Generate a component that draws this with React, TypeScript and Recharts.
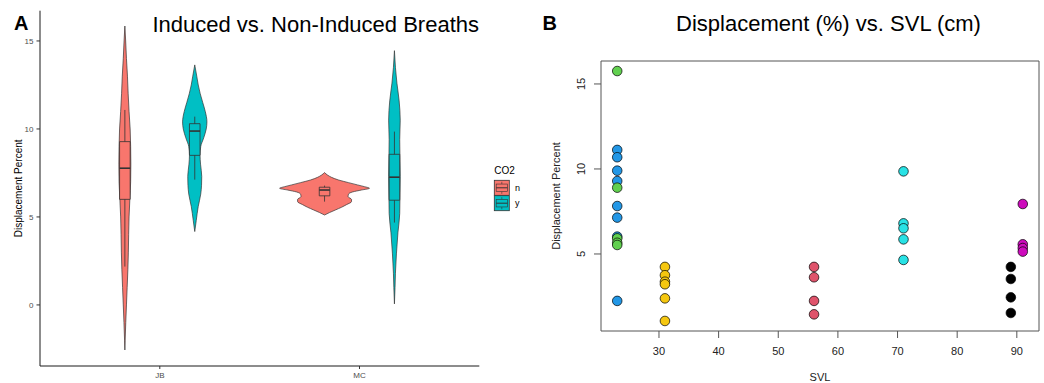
import React from 'react';
import {
  ComposedChart, Area, XAxis, YAxis, ReferenceArea, ReferenceLine,
  ScatterChart, Scatter,
} from 'recharts';

const FONT = '"Liberation Sans", Arial, Helvetica, sans-serif';

// ---------- panel A: violins + boxplots ----------
const groups = ['JB', 'MC'];
const co2Levels = ['n', 'y'];
const co2Fill = ['#F8766D', '#00BFC4'];

// violin outlines: displacement level and half width (in category units)
const jbNoY = [-2.56, -2, -1, 0, 1, 2, 3, 4, 5, 6, 7, 8, 9, 10, 11, 12, 13, 14, 15, 15.85];
const jbNoWidth = [0, 0.0015, 0.0045, 0.008, 0.0115, 0.015, 0.0175, 0.019, 0.021, 0.025, 0.029, 0.03, 0.029, 0.0265, 0.021, 0.0165, 0.013, 0.008, 0.004, 0];

const jbYesY = [4.17, 4.8, 5.6, 6.3, 6.8, 7.3, 8.0, 8.5, 9.0, 9.5, 10.0, 10.4, 11.0, 11.5, 12.0, 12.5, 13.0, 13.64];
const jbYesWidth = [0, 0.0075, 0.0175, 0.03, 0.034, 0.035, 0.029, 0.0265, 0.03, 0.045, 0.0575, 0.061, 0.0525, 0.04, 0.0275, 0.0175, 0.01, 0];

const mcNoY = [5.11, 5.25, 5.4, 5.55, 5.7, 5.87, 6.0, 6.15, 6.3, 6.42, 6.53, 6.63, 6.72, 6.82, 6.95, 7.1, 7.25, 7.38, 7.52];
const mcNoWidth = [0, 0.025, 0.055, 0.085, 0.11, 0.135, 0.135, 0.118, 0.12, 0.14, 0.185, 0.225, 0.2, 0.165, 0.12, 0.07, 0.035, 0.015, 0];

const mcYesY = [0.06, 1.0, 1.8, 2.9, 4.1, 5.2, 6.0, 7.3, 8.5, 9.4, 10.5, 11.6, 12.6, 13.5, 14.45];
const mcYesWidth = [0, 0.003, 0.005, 0.01, 0.0175, 0.0265, 0.0275, 0.029, 0.0275, 0.0265, 0.029, 0.0235, 0.0125, 0.005, 0];

// boxplot stats, order: JB n, JB y, MC n, MC y
const boxLow = [2.18, 7.12, 5.87, 4.68];
const boxQ1 = [6.0, 8.5, 6.2, 5.95];
const boxMedian = [7.77, 9.88, 6.53, 7.26];
const boxQ3 = [9.28, 10.3, 6.69, 8.56];
const boxHigh = [11.08, 10.7, 6.78, 9.85];

// ---------- panel B: scatter ----------
const svlBlue = 23;
const dispBlue = [11.12, 10.69, 9.9, 9.29, 7.82, 7.14, 6.02, 2.24];
const svlGreen = 23;
const dispGreen = [15.76, 8.9, 5.92, 5.66, 5.53];
const svlYellow = 31;
const dispYellow = [4.24, 3.75, 3.37, 3.22, 2.39, 1.06];
const svlRed = 56;
const dispRed = [4.24, 3.63, 2.24, 1.45];
const svlCyan = 71;
const dispCyan = [9.86, 6.8, 6.51, 5.86, 4.65];
const svlBlack = 89;
const dispBlack = [4.24, 3.53, 2.45, 1.53];
const svlMagenta = 91;
const dispMagenta = [7.94, 5.57, 5.35, 5.14];
const svlTicks = [30, 40, 50, 60, 70, 80, 90];
const dispTicks = [5, 10, 15];

const DODGE = 0.175;
const BOX_HALF = 0.0265;

const violins = [
  { key: 'jbN', g: 0, c: 0, ys: jbNoY, ws: jbNoWidth },
  { key: 'jbY', g: 0, c: 1, ys: jbYesY, ws: jbYesWidth },
  { key: 'mcN', g: 1, c: 0, ys: mcNoY, ws: mcNoWidth },
  { key: 'mcY', g: 1, c: 1, ys: mcYesY, ws: mcYesWidth },
].map(s => ({ ...s, center: s.g + 1 + (s.c === 0 ? -DODGE : DODGE) }));

const levels = Array.from(new Set(violins.flatMap(s => s.ys))).sort((a, b) => a - b);
const violinRows = levels.map(v => {
  const row: any = { v };
  violins.forEach(s => {
    const i = s.ys.indexOf(v);
    row[s.key] = i >= 0 ? [s.center - s.ws[i], s.center + s.ws[i]] : [null, null];
  });
  return row;
});

const scatterSets = [
  { svl: svlBlue, disp: dispBlue, color: '#2297E6' },
  { svl: svlGreen, disp: dispGreen, color: '#61D04F' },
  { svl: svlYellow, disp: dispYellow, color: '#F5C710' },
  { svl: svlRed, disp: dispRed, color: '#DF536B' },
  { svl: svlCyan, disp: dispCyan, color: '#28E2E5' },
  { svl: svlBlack, disp: dispBlack, color: '#000000' },
  { svl: svlMagenta, disp: dispMagenta, color: '#CD0BBC' },
];

const Dot = (props: any) => (
  <circle cx={props.cx} cy={props.cy} r={4.8} fill={props.fill} stroke="#000" strokeWidth={0.7} />
);

const RotTick = (props: any) => {
  const { x, y, payload } = props;
  return (
    <text x={x} y={y} transform={`rotate(-90, ${x}, ${y})`} textAnchor="middle"
      fontSize={11} fill="#222" fontFamily={FONT}>{payload.value}</text>
  );
};

function LegendKey({ x, y, fill }: { x: number; y: number; fill: string }) {
  const s = 15;
  return (
    <g>
      <rect x={x} y={y} width={s} height={s} fill={fill} stroke="#333" strokeWidth={0.8} />
      <line x1={x + s / 2} x2={x + s / 2} y1={y + s * 0.1} y2={y + s * 0.25} stroke="#333" strokeWidth={0.6} />
      <line x1={x + s / 2} x2={x + s / 2} y1={y + s * 0.75} y2={y + s * 0.9} stroke="#333" strokeWidth={0.6} />
      <rect x={x + s * 0.125} y={y + s * 0.25} width={s * 0.75} height={s * 0.5} fill={fill} stroke="#333" strokeWidth={0.6} />
      <line x1={x + s * 0.125} x2={x + s * 0.875} y1={y + s / 2} y2={y + s / 2} stroke="#333" strokeWidth={1} />
    </g>
  );
}

export default function App() {
  return (
    <div style={{ position: 'absolute', left: 0, top: 0, width: 1044, height: 383, background: '#fff', fontFamily: FONT }}>
      <div style={{ position: 'absolute', left: 0, top: 0 }}>
        <ComposedChart width={540} height={383} layout="vertical" data={violinRows}
          margin={{ top: 10.7, right: 60.7, bottom: 0, left: 0 }}>
          <XAxis type="number" domain={[0.4, 2.6]} ticks={[1, 2]} allowDataOverflow
            tickFormatter={(t: number) => groups[t - 1]} height={17} tickSize={3} tickMargin={3}
            stroke="#1a1a1a" tickLine={{ stroke: '#333' }}
            tick={{ fill: '#4d4d4d', fontSize: 8, fontFamily: FONT }} />
          <YAxis type="number" dataKey="v" domain={[-3.47, 16.72]} ticks={[0, 5, 10, 15]} allowDataOverflow reversed
            width={40} tickSize={3.5} tickMargin={3} stroke="#1a1a1a" tickLine={{ stroke: '#333' }}
            tick={{ fill: '#4d4d4d', fontSize: 8, fontFamily: FONT }}
            label={{ value: 'Displacement Percent', angle: -90, position: 'center', dx: -1.7, fontSize: 10, fill: '#000', fontFamily: FONT }} />
          {violins.map(s => (
            <Area key={s.key} dataKey={s.key} type="monotone" connectNulls isAnimationActive={false}
              fill={co2Fill[s.c]} fillOpacity={1} stroke="#333" strokeWidth={0.7}
              dot={false} activeDot={false} />
          ))}
          {violins.map((s, i) => (
            <ReferenceArea key={`box-${s.key}`} x1={s.center - BOX_HALF} x2={s.center + BOX_HALF}
              y1={boxQ1[i]} y2={boxQ3[i]} fill={co2Fill[s.c]} fillOpacity={1}
              stroke="#333" strokeWidth={0.8} ifOverflow="visible" zIndex={700} />
          ))}
          {violins.map((s, i) => (
            <ReferenceLine key={`wu-${s.key}`} segment={[{ x: s.center, y: boxQ3[i] }, { x: s.center, y: boxHigh[i] }]}
              stroke="#333" strokeWidth={0.8} ifOverflow="visible" zIndex={710} />
          ))}
          {violins.map((s, i) => (
            <ReferenceLine key={`wl-${s.key}`} segment={[{ x: s.center, y: boxLow[i] }, { x: s.center, y: boxQ1[i] }]}
              stroke="#333" strokeWidth={0.8} ifOverflow="visible" zIndex={710} />
          ))}
          {violins.map((s, i) => (
            <ReferenceLine key={`med-${s.key}`} segment={[{ x: s.center - BOX_HALF, y: boxMedian[i] }, { x: s.center + BOX_HALF, y: boxMedian[i] }]}
              stroke="#333" strokeWidth={1.6} ifOverflow="visible" zIndex={720} />
          ))}
        </ComposedChart>
      </div>

      <div style={{ position: 'absolute', left: 540, top: 0 }}>
        <ScatterChart width={504} height={383} margin={{ top: 61, right: 5, bottom: 0, left: 0 }}>
          <XAxis type="number" dataKey="x" domain={[20.28, 93.72]} ticks={svlTicks} allowDataOverflow
            height={52} tickSize={7} tickMargin={9} axisLine={false} tickLine={{ stroke: '#555' }}
            tick={{ fill: '#222', fontSize: 11, fontFamily: FONT }}
            label={{ value: 'SVL', position: 'center', dy: 20.3, fontSize: 11, fill: '#222', fontFamily: FONT }} />
          <YAxis type="number" dataKey="y" domain={[0.47, 16.35]} ticks={dispTicks} allowDataOverflow
            width={61} tickSize={7} tickMargin={9} axisLine={false} tickLine={{ stroke: '#555' }}
            tick={<RotTick />}
            label={{ value: 'Displacement Percent', angle: -90, position: 'center', dx: -14.5, fontSize: 11, fill: '#222', fontFamily: FONT }} />
          <ReferenceArea x1={20.28} x2={93.72} y1={0.47} y2={16.35} fill="none" stroke="#555" strokeWidth={1} ifOverflow="visible" />
          {scatterSets.map((s, i) => (
            <Scatter key={i} data={s.disp.map(d => ({ x: s.svl, y: d }))} fill={s.color}
              shape={<Dot />} isAnimationActive={false} />
          ))}
        </ScatterChart>
      </div>

      <svg width={1044} height={383} style={{ position: 'absolute', left: 0, top: 0, pointerEvents: 'none' }}>
        <text x={14} y={30} fontSize={20} fontWeight="bold" fontFamily={FONT} fill="#000">A</text>
        <text x={479} y={31.5} fontSize={22} textAnchor="end" fontFamily={FONT} fill="#000">Induced vs. Non-Induced Breaths</text>
        <text x={494.3} y={174} fontSize={10} fontFamily={FONT} fill="#000">CO2</text>
        {co2Levels.map((lv, i) => (
          <g key={lv}>
            <LegendKey x={494.3} y={180.3 + i * 15.4} fill={co2Fill[i]} />
            <text x={515} y={190.8 + i * 15.4} fontSize={9} fontFamily={FONT} fill="#000">{lv}</text>
          </g>
        ))}
        <text x={542.5} y={29.5} fontSize={20} fontWeight="bold" fontFamily={FONT} fill="#000">B</text>
        <text x={828.5} y={31} fontSize={22} textAnchor="middle" fontFamily={FONT} fill="#000">Displacement (%) vs. SVL (cm)</text>
      </svg>
    </div>
  );
}
